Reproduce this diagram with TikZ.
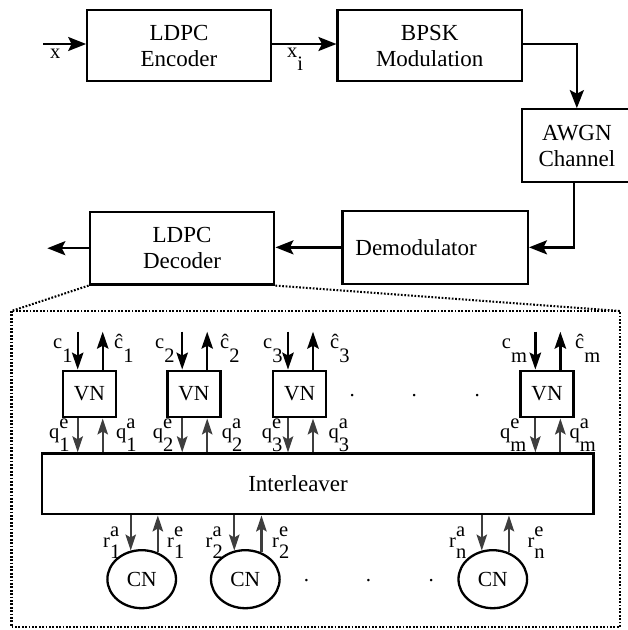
\documentclass[tikz,border=0pt]{standalone}
\usepackage{fontspec}
\setmainfont{Liberation Serif}
\usetikzlibrary{arrows.meta,shapes.geometric,calc}
\definecolor{arrowgray}{RGB}{62,62,62}
\begin{document}
\begin{tikzpicture}[x=1pt,y=-1pt,
  blk/.style={draw, line width=2.3pt, inner sep=0pt, align=center, font=\fontsize{23}{26}\selectfont},
  vnbox/.style={draw, line width=2.3pt, minimum width=53pt, minimum height=46.6pt, inner sep=0pt, font=\fontsize{21.5}{24}\selectfont},
  cnnode/.style={draw, ellipse, line width=2.3pt, minimum width=68.6pt, minimum height=58pt, inner sep=0pt, font=\fontsize{21.5}{24}\selectfont},
  bigarrow/.style={line width=2.4pt, -{Stealth[length=18pt,width=14pt,inset=3.5pt]}},
  karrow/.style={line width=2.3pt, -{Stealth[length=17pt,width=11.5pt,inset=3pt]}},
  garrow/.style={line width=2.2pt, draw=arrowgray, -{Stealth[length=16pt,width=10.5pt,inset=3pt]}},
  lab/.style={inner sep=0pt, anchor=base west, font=\fontsize{20.5}{24}\selectfont},
  dotn/.style={inner sep=0pt, anchor=base, font=\fontsize{21}{24}\selectfont},
  dotline/.style={line width=2.1pt, dash pattern=on 1.7pt off 1.7pt},
]
\useasboundingbox (0,0) rectangle (628,630);
\clip (0,0) rectangle (628,630);

% ---- transmitter / channel chain ----
\node[blk, minimum width=183.4pt, minimum height=71.3pt] (enc) at (179,45.65) {LDPC\\Encoder};
\node[blk, minimum width=184.2pt, minimum height=71.3pt] (bpsk) at (429.7,45.65) {BPSK\\Modulation};
\node[blk, minimum width=110.3pt, minimum height=72.4pt] (awgn) at (576.85,145.5) {AWGN\\Channel};
\node[blk, text width=159.4pt, inner xsep=13pt, minimum height=73.3pt, align=left] (demod) at (435.1,247.35) {Demodulator};
\node[blk, minimum width=184.6pt, minimum height=72.5pt] (dec) at (182,248.2) {LDPC\\Decoder};

\coordinate (xin) at (43.3,44);
\coordinate (out) at (47.3,248.2);
\draw[bigarrow] (xin) -- (xin -| enc.west);
\draw[bigarrow] (xin -| enc.east) -- (xin -| bpsk.west);
\draw[bigarrow] (xin -| bpsk.east) -| (awgn.north);
\draw[bigarrow] ([xshift=-3pt]awgn.south) |- (demod.east);
\draw[bigarrow] (demod.west) -- (demod.west -| dec.east);
\draw[bigarrow] (dec.west) -- (out);

\node[lab] (xlab) at (50,58.3) {x};
\node[lab] (xilab) at (287,57.7) {x\raisebox{-12.3pt}{i}};

% ---- zoom into decoder ----
\coordinate (tl) at (11.5,311);
\coordinate (br) at (620,627);
\draw[dotline] (dec.south west) -- (tl);
\draw[dotline] (dec.south east) -- (tl -| br);
\draw[dotline] (tl) rectangle (br);

\node[blk, minimum width=551.7pt, minimum height=60.8pt] (il) at (317.55,483.9) {Interleaver\hspace{39pt}};

% variable nodes
\foreach \n/\cx in {1/89.35, 2/193.85, 3/299.65, m/547} {
  \node[vnbox] (vn\n) at (\cx,394) {VN};
  \coordinate (c\n) at (\cx-11.65,331.7);
  \coordinate (h\n) at (\cx+13.35,331.7);
  \draw[karrow] (c\n) -- (c\n |- vn\n.north);
  \draw[karrow] (h\n |- vn\n.north) -- (h\n);
  \draw[garrow] (c\n |- vn\n.south) -- (c\n |- il.north);
  \draw[garrow] (h\n |- il.north) -- (h\n |- vn\n.south);
}

% check nodes
\foreach \n/\cx in {1/141.7, 2/245.3, n/492.8} {
  \node[cnnode] (cn\n) at (\cx,579.2) {CN};
  \draw[garrow] (il.south -| cn\n.111.8) -- (cn\n.111.8);
  \draw[garrow] (cn\n.59.1) -- (il.south -| cn\n.59.1);
}

% labels at the variable nodes
\node[lab] (lc1) at (53,348) {c\raisebox{-14pt}{1}};
\node[lab] (lc2) at (155,348) {c\raisebox{-14pt}{2}};
\node[lab] (lc3) at (263,348) {c\raisebox{-14pt}{3}};
\node[lab] (lcm) at (501.7,348) {c\raisebox{-14pt}{m}};
\node[lab] (lh1) at (114,348) {ĉ\raisebox{-14pt}{1}};
\node[lab] (lh2) at (220,348) {ĉ\raisebox{-14pt}{2}};
\node[lab] (lh3) at (330,348) {ĉ\raisebox{-14pt}{3}};
\node[lab] (lhm) at (575,348) {ĉ\raisebox{-14pt}{m}};

\node[lab] (lqe1) at (49,438) {q\rlap{\raisebox{10pt}{e}}\raisebox{-13pt}{1}};
\node[lab] (lqe2) at (152.7,438) {q\rlap{\raisebox{10pt}{e}}\raisebox{-13pt}{2}};
\node[lab] (lqe3) at (261.7,438) {q\rlap{\raisebox{10pt}{e}}\raisebox{-13pt}{3}};
\node[lab] (lqem) at (500,438) {q\rlap{\raisebox{10pt}{e}}\raisebox{-13pt}{m}};
\node[lab] (lqa1) at (116,438) {q\rlap{\raisebox{10pt}{a}}\raisebox{-13pt}{1}};
\node[lab] (lqa2) at (221.7,438) {q\rlap{\raisebox{10pt}{a}}\raisebox{-13pt}{2}};
\node[lab] (lqa3) at (328.3,438) {q\rlap{\raisebox{10pt}{a}}\raisebox{-13pt}{3}};
\node[lab] (lqam) at (569.3,438) {q\rlap{\raisebox{10pt}{a}}\raisebox{-13pt}{m}};

% labels at the check nodes
\node[lab] (lra1) at (103,547) {r\rlap{\raisebox{11pt}{a}}\raisebox{-11pt}{1}};
\node[lab] (lra2) at (205.5,547) {r\rlap{\raisebox{11pt}{a}}\raisebox{-11pt}{2}};
\node[lab] (lran) at (449,547) {r\rlap{\raisebox{11pt}{a}}\raisebox{-11pt}{n}};
\node[lab] (lre1) at (167,547) {r\rlap{\raisebox{11pt}{e}}\raisebox{-11pt}{1}};
\node[lab] (lre2) at (272,547) {r\rlap{\raisebox{11pt}{e}}\raisebox{-11pt}{2}};
\node[lab] (lren) at (527.3,547) {r\rlap{\raisebox{11pt}{e}}\raisebox{-11pt}{n}};

% ellipsis dots
\node[dotn] (d1) at (352.3,396.5) {.};
\node[dotn] (d2) at (414.3,396.5) {.};
\node[dotn] (d3) at (477.3,396.5) {.};
\node[dotn] (d4) at (306.4,581.5) {.};
\node[dotn] (d5) at (368.4,581.5) {.};
\node[dotn] (d6) at (431.3,581.5) {.};
\end{tikzpicture}
\end{document}
